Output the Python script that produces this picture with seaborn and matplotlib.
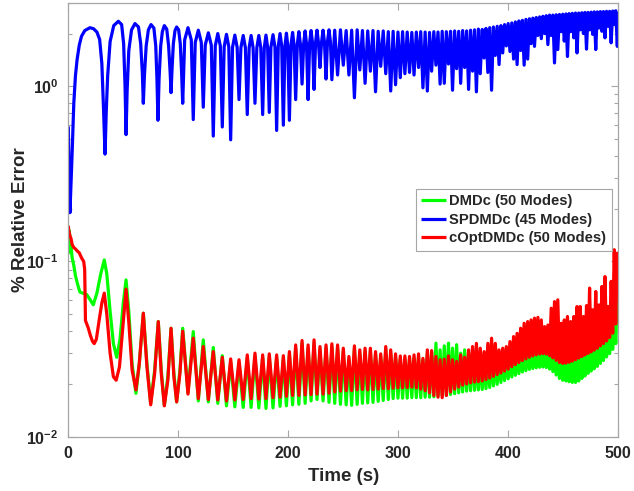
import numpy as np
import pandas as pd
import matplotlib
matplotlib.use("Agg")
import matplotlib.pyplot as plt
import seaborn as sns
from matplotlib.ticker import LogLocator, NullFormatter, FixedLocator

# ---------------- data ----------------
series_names = ["DMDc (50 Modes)", "SPDMDc (45 Modes)", "cOptDMDc (50 Modes)"]
x_ticks = [0, 100, 200, 300, 400, 500]
x_tick_labels = ["0", "100", "200", "300", "400", "500"]
y_ticks = [0.01, 0.1, 1.0]
y_tick_labels = [r"$\mathbf{10^{-2}}$", r"$\mathbf{10^{-1}}$", r"$\mathbf{10^{0}}$"]

# early part (t < 104 s), hand-read points
dmdc_early_t = [0, 0.8, 2, 3.5, 5, 6.5, 8.5, 10.5, 13, 16.5, 19.5, 22.7, 26, 29.5, 32.7,
                35, 38, 41, 44, 47, 50, 52.5, 55, 58, 61.5, 64.5, 68.2, 71.5, 74.9, 78.5,
                81.8, 84.5, 87.3, 90.5, 93.4, 96, 98.5, 101.5]
dmdc_early = [0.11, 0.15, 0.13, 0.105, 0.095, 0.083, 0.074, 0.067, 0.066, 0.065, 0.061, 0.0566,
              0.066, 0.085, 0.102, 0.085, 0.052, 0.034, 0.0284, 0.036, 0.058, 0.0785, 0.052,
              0.026, 0.0177, 0.026, 0.0507, 0.026, 0.0155, 0.024, 0.0454, 0.024, 0.0151,
              0.022, 0.0416, 0.023, 0.0158, 0.024]

spd_early_t = [0, 0.8, 1.5, 2.5, 3.5, 5, 6.5, 8, 10, 12, 15, 19.7, 23, 26, 28.5, 30.5, 32,
               33.4, 34.5, 35.8, 38, 41.3, 45.5, 48.5, 50.3, 51.6, 52.5, 53.5, 55, 57.5, 60.6,
               63.8, 65.8, 67.3, 68.2, 69.2, 70.8, 72.8, 75.2, 77.8, 79.5, 80.6, 81.5, 82.5,
               84, 85.5, 87.3, 89.5, 91.2, 92.6, 93.4, 94.3, 95.5, 97, 98.5, 100.3, 101.8, 103]
spd_early = [0.59, 0.30, 0.19, 0.28, 0.42, 0.80, 1.15, 1.42, 1.72, 1.93, 2.08, 2.16, 2.13,
             2.04, 1.85, 1.35, 0.75, 0.41, 0.72, 1.15, 1.80, 2.22, 2.35, 2.25, 1.75, 1.0,
             0.53, 0.95, 1.6, 2.1, 2.28, 2.18, 1.75, 1.2, 0.80, 1.15, 1.7, 2.1, 2.25, 2.15,
             1.7, 1.1, 0.64, 1.1, 1.7, 2.05, 2.22, 2.12, 1.7, 1.2, 0.92, 1.25, 1.75, 2.08,
             2.18, 2.1, 1.75, 1.2]

copt_early_t = [0, 0.5, 1.5, 2.5, 3.5, 5, 6.5, 8, 10, 12, 14.0, 14.9, 15.6, 18, 20, 22, 23.6,
                25.5, 28, 30.5, 32.7, 35, 38, 41, 43.5, 46.5, 49.5, 52.5, 55, 58, 61.5, 64.5,
                68.2, 71.5, 74.9, 78.5, 81.8, 84.5, 87.3, 90.5, 93.4, 96, 98.5, 101.5]
copt_early = [0.16, 0.15, 0.14, 0.135, 0.125, 0.12, 0.118, 0.115, 0.112, 0.105, 0.10, 0.09,
              0.046, 0.042, 0.038, 0.035, 0.034, 0.036, 0.046, 0.058, 0.066, 0.05, 0.03, 0.022,
              0.021, 0.025, 0.042, 0.0695, 0.045, 0.024, 0.0185, 0.026, 0.0507, 0.025, 0.0152,
              0.023, 0.0454, 0.023, 0.0150, 0.021, 0.0416, 0.022, 0.0158, 0.023]

# oscillating part: times of the red/green maxima (= blue minima) and of the minima between
peak_t = [104.0, 113.6, 122.7, 131.8, 140.0, 147.6, 155.2, 162.7, 169.7, 176.7,
          182.7, 189.4, 195.5, 201.0, 206.7, 212.5, 218.0, 223.4, 228.8, 234.3,
          239.6, 244.8, 250.0, 255.1, 260.1, 265.0, 269.8, 274.6, 279.3, 284.0,
          288.6, 293.1, 297.5, 301.8, 306.0, 310.2, 314.3, 318.4, 322.4, 326.4,
          330.3, 334.2, 338.0, 341.8, 345.6, 349.3, 353.0, 356.7, 360.3, 363.9,
          367.5, 371.0, 374.5, 378.0, 381.4, 384.8, 388.2, 391.6, 394.9, 398.2,
          401.5, 404.8, 408.0, 411.2, 414.4, 417.6, 420.7, 423.8, 426.9, 430.0,
          433.0, 436.0, 439.0, 442.0, 445.0, 448.0, 450.9, 453.8, 456.7, 459.6,
          462.5, 465.4, 468.3, 471.1, 473.9, 476.7, 479.5, 482.3, 485.1, 487.9,
          490.7, 493.5, 496.3, 499.1]
trough_t = [108.8, 118.2, 127.3, 135.9, 143.8, 151.4, 159.0, 166.2, 173.2, 179.7,
            186.1, 192.5, 198.3, 203.9, 209.6, 215.3, 220.7, 226.1, 231.6, 237.0,
            242.2, 247.4, 252.6, 257.6, 262.6, 267.4, 272.2, 277.0, 281.7, 286.3,
            290.9, 295.3, 299.7, 303.9, 308.1, 312.3, 316.4, 320.4, 324.4, 328.4,
            332.3, 336.1, 339.9, 343.7, 347.5, 351.2, 354.9, 358.5, 362.1, 365.7,
            369.3, 372.8, 376.3, 379.7, 383.1, 386.5, 389.9, 393.3, 396.6, 399.9,
            403.2, 406.4, 409.6, 412.8, 416.0, 419.2, 422.3, 425.4, 428.5, 431.5,
            434.5, 437.5, 440.5, 443.5, 446.5, 449.5, 452.4, 455.3, 458.2, 461.1,
            464.0, 466.9, 469.7, 472.5, 475.3, 478.1, 480.9, 483.7, 486.5, 489.3,
            492.1, 494.9, 497.7, 500.0]

copt_at_peak = [0.0400, 0.0365, 0.0327, 0.0306, 0.0284, 0.0278, 0.0275, 0.0293, 0.0300, 0.0293,
                0.0297, 0.0293, 0.0290, 0.0306, 0.0334, 0.0354, 0.0334, 0.0357, 0.0327, 0.0334,
                0.0339, 0.0334, 0.0320, 0.0287, 0.0330, 0.0313, 0.0320, 0.0320, 0.0306, 0.0297,
                0.0327, 0.0313, 0.0297, 0.0289, 0.0289, 0.0287, 0.0293, 0.0297, 0.0280, 0.0313,
                0.0310, 0.0287, 0.0275, 0.0277, 0.0289, 0.0275, 0.0269, 0.0293, 0.0284, 0.0313,
                0.0327, 0.0341, 0.0320, 0.0306, 0.0341, 0.0365, 0.0341, 0.0313, 0.0320, 0.0327,
                0.0349, 0.0373, 0.0389, 0.0416, 0.0444, 0.0454, 0.0464, 0.0475, 0.0480, 0.0464,
                0.0425, 0.0434, 0.0541, 0.0590, 0.0604, 0.0444, 0.0464, 0.0485, 0.0454, 0.0485,
                0.0553, 0.0553, 0.0485, 0.0560, 0.0705, 0.0530, 0.0674, 0.0565, 0.0720, 0.0820,
                0.0553, 0.0770, 0.1167, 0.1117]
copt_at_trough = [0.0175, 0.0165, 0.0163, 0.0162, 0.0160, 0.0162, 0.0163, 0.0165, 0.0164, 0.0165,
                  0.0167, 0.0168, 0.0170, 0.0172, 0.0172, 0.0173, 0.0174, 0.0175, 0.0175, 0.0177,
                  0.0180, 0.0182, 0.0183, 0.0183, 0.0185, 0.0186, 0.0185, 0.0186, 0.0187, 0.0188,
                  0.0188, 0.0189, 0.0190, 0.0190, 0.0191, 0.0192, 0.0190, 0.0187, 0.0183, 0.0178,
                  0.0172, 0.0168, 0.0167, 0.0172, 0.0180, 0.0187, 0.0192, 0.0197, 0.0200, 0.0203,
                  0.0205, 0.0206, 0.0208, 0.0212, 0.0216, 0.0221, 0.0226, 0.0231, 0.0237, 0.0243,
                  0.0251, 0.0258, 0.0265, 0.0272, 0.0278, 0.0284, 0.0289, 0.0293, 0.0296, 0.0298,
                  0.0296, 0.0290, 0.0282, 0.0273, 0.0265, 0.0262, 0.0263, 0.0266, 0.0270, 0.0275,
                  0.0281, 0.0287, 0.0293, 0.0299, 0.0305, 0.0312, 0.0320, 0.0330, 0.0340, 0.0352,
                  0.0368, 0.0390, 0.0440, 0.0950]

dmdc_at_peak = [0.0416, 0.0398, 0.0357, 0.0323, 0.0290, 0.0267, 0.0264, 0.0281, 0.0288, 0.0281,
                0.0285, 0.0281, 0.0278, 0.0294, 0.0320, 0.0340, 0.0320, 0.0343, 0.0314, 0.0320,
                0.0325, 0.0320, 0.0307, 0.0276, 0.0317, 0.0300, 0.0307, 0.0307, 0.0294, 0.0285,
                0.0314, 0.0300, 0.0285, 0.0277, 0.0277, 0.0276, 0.0281, 0.0285, 0.0275, 0.0300,
                0.0305, 0.0342, 0.0313, 0.0330, 0.0342, 0.0320, 0.0335, 0.0300, 0.0313, 0.0300,
                0.0300, 0.0290, 0.0285, 0.0280, 0.0290, 0.0300, 0.0295, 0.0285, 0.0290, 0.0295,
                0.0305, 0.0315, 0.0325, 0.0335, 0.0345, 0.0350, 0.0355, 0.0360, 0.0360, 0.0355,
                0.0345, 0.0345, 0.0370, 0.0380, 0.0375, 0.0330, 0.0335, 0.0340, 0.0335, 0.0345,
                0.0370, 0.0370, 0.0355, 0.0380, 0.0420, 0.0380, 0.0420, 0.0400, 0.0440, 0.0470,
                0.0420, 0.0480, 0.0560, 0.0630]
dmdc_at_trough = [0.0178, 0.0160, 0.0158, 0.0155, 0.0150, 0.0148, 0.0147, 0.0147, 0.0146, 0.0145,
                  0.0146, 0.0149, 0.0150, 0.0152, 0.0153, 0.0155, 0.0160, 0.0163, 0.0160, 0.0157,
                  0.0155, 0.0153, 0.0152, 0.0151, 0.0153, 0.0155, 0.0156, 0.0157, 0.0159, 0.0161,
                  0.0163, 0.0165, 0.0166, 0.0166, 0.0166, 0.0167, 0.0167, 0.0167, 0.0168, 0.0168,
                  0.0169, 0.0170, 0.0171, 0.0172, 0.0174, 0.0176, 0.0178, 0.0180, 0.0182, 0.0183,
                  0.0184, 0.0185, 0.0186, 0.0188, 0.0191, 0.0195, 0.0199, 0.0204, 0.0209, 0.0214,
                  0.0219, 0.0224, 0.0229, 0.0234, 0.0238, 0.0242, 0.0245, 0.0247, 0.0249, 0.0250,
                  0.0248, 0.0243, 0.0235, 0.0225, 0.0215, 0.0210, 0.0208, 0.0206, 0.0204, 0.0204,
                  0.0208, 0.0215, 0.0222, 0.0230, 0.0237, 0.0244, 0.0252, 0.0262, 0.0272, 0.0285,
                  0.0298, 0.0315, 0.0340, 0.0620]

spd_at_peak = [0.80, 0.646, 0.76, 0.52, 0.586, 0.495, 0.84, 0.69, 0.80, 0.69,
               0.71, 0.56, 0.60, 0.64, 0.84, 1.03, 0.84, 0.96, 1.28, 1.10,
               1.09, 1.16, 1.32, 1.16, 0.86, 1.24, 1.04, 1.22, 0.93, 1.30,
               1.18, 0.94, 1.02, 1.12, 1.18, 1.20, 1.16, 1.28, 0.98, 0.94,
               1.22, 1.32, 1.03, 1.04, 1.34, 0.95, 1.26, 1.04, 1.28, 0.96,
               1.22, 0.93, 1.18, 1.45, 1.20, 0.95, 1.50, 1.33, 1.55, 1.70,
               1.58, 1.43, 1.33, 1.60, 1.32, 1.43, 1.75, 1.69, 1.95, 1.87,
               2.00, 1.73, 1.95, 1.36, 1.62, 2.05, 1.81, 1.48, 2.05, 1.89,
               1.55, 2.10, 2.00, 1.63, 2.10, 1.98, 1.62, 2.15, 2.06, 1.89,
               2.20, 1.77, 2.25, 1.69]
spd_at_trough = [2.16, 2.09, 2.02, 2.00, 1.98, 1.96, 1.95, 1.95, 1.95, 1.96,
                 1.97, 2.00, 2.01, 2.03, 2.05, 2.07, 2.08, 2.09, 2.09, 2.10,
                 2.09, 2.10, 2.08, 2.09, 2.10, 2.08, 2.07, 2.08, 2.06, 2.07,
                 2.05, 2.06, 2.04, 2.05, 2.04, 2.03, 2.04, 2.05, 2.04, 2.03,
                 2.05, 2.04, 2.06, 2.05, 2.06, 2.07, 2.06, 2.08, 2.07, 2.09,
                 2.10, 2.12, 2.11, 2.14, 2.16, 2.18, 2.20, 2.22, 2.25, 2.28,
                 2.30, 2.33, 2.36, 2.38, 2.41, 2.43, 2.45, 2.47, 2.49, 2.51,
                 2.53, 2.55, 2.55, 2.56, 2.57, 2.58, 2.59, 2.60, 2.61, 2.62,
                 2.62, 2.63, 2.64, 2.64, 2.65, 2.66, 2.66, 2.67, 2.67, 2.68,
                 2.68, 2.69, 2.70, 2.65]

# shoulders of the rounded blue maxima (104-240 s), read where the dips widen out
spd_shoulder_t = [105.8, 111.8, 115.4, 120.9, 124.5, 130.0, 133.6, 138.2, 141.7, 145.9,
                  149.3, 153.5, 156.9, 161.0, 164.4, 168.0, 171.4, 175.0, 178.2, 181.2,
                  184.2, 187.9, 190.9, 194.0, 197.0, 199.5, 202.5, 205.2, 208.2, 211.0,
                  214.0, 216.5, 219.4, 222.0, 224.8, 227.4, 230.2, 232.9, 235.6, 238.3]
spd_shoulder = [1.84, 1.84, 1.78, 1.78, 1.72, 1.72, 1.70, 1.70, 1.68, 1.68,
                1.67, 1.67, 1.66, 1.66, 1.66, 1.66, 1.66, 1.66, 1.67, 1.67,
                1.67, 1.67, 1.70, 1.70, 1.71, 1.71, 1.73, 1.73, 1.74, 1.74,
                1.76, 1.76, 1.77, 1.77, 1.78, 1.78, 1.78, 1.78, 1.79, 1.79]


def build(early_t, early_v, at_peak, at_trough, name, extra_t=(), extra_v=()):
    t_osc = np.column_stack([peak_t, trough_t]).ravel()
    v_osc = np.column_stack([at_peak, at_trough]).ravel()
    t = np.concatenate([early_t, t_osc, extra_t])
    v = np.concatenate([early_v, v_osc, extra_v])
    df = pd.DataFrame({"Time (s)": t, "err": v, "method": name})
    return df.sort_values("Time (s)", kind="stable").reset_index(drop=True)


df_dmdc = build(dmdc_early_t, dmdc_early, dmdc_at_peak, dmdc_at_trough, series_names[0])
df_spd = build(spd_early_t, spd_early, spd_at_peak, spd_at_trough, series_names[1],
               spd_shoulder_t, spd_shoulder)
df_copt = build(copt_early_t, copt_early, copt_at_peak, copt_at_trough, series_names[2])

# ---------------- style ----------------
sns.set_style("ticks")
plt.rcParams["font.family"] = ["Liberation Sans", "DejaVu Sans"]
plt.rcParams["mathtext.fontset"] = "custom"
plt.rcParams["mathtext.rm"] = "Liberation Sans:bold"
plt.rcParams["mathtext.bf"] = "Liberation Sans:bold"
plt.rcParams["mathtext.it"] = "Liberation Sans:bold"

axis_gray = "#a6a6a6"
text_col = "#262626"

fig = plt.figure(figsize=(6.34, 4.91), dpi=100)
ax = fig.add_axes([68.3 / 634, 1 - 436.7 / 491, 550 / 634, 434 / 491])

line_kw = dict(estimator=None, sort=False, lw=2.3, solid_joinstyle="round",
               solid_capstyle="butt")
sns.lineplot(data=df_dmdc, x="Time (s)", y="err", ax=ax, color="#00ff00",
             label=series_names[0], **line_kw)
sns.lineplot(data=df_spd, x="Time (s)", y="err", ax=ax, color="#0000ff",
             label=series_names[1], **line_kw)
sns.lineplot(data=df_copt, x="Time (s)", y="err", ax=ax, color="#ff0000",
             label=series_names[2], **line_kw)

ax.set_yscale("log")
ax.set_xlim(0, 500)
ax.set_ylim(0.01, 3.0)

ax.set_xticks(x_ticks)
ax.set_xticklabels(x_tick_labels, fontweight="bold", fontsize=11.5)
ax.yaxis.set_major_locator(FixedLocator(y_ticks))
ax.set_yticklabels(y_tick_labels, fontsize=11.5)
ax.yaxis.set_minor_locator(LogLocator(base=10, subs=np.arange(2, 10)))
ax.yaxis.set_minor_formatter(NullFormatter())

ax.tick_params(which="both", direction="in", top=True, right=True,
               color=axis_gray, labelcolor=text_col, width=0.8)
ax.tick_params(which="major", length=5, pad=7)
ax.tick_params(which="minor", length=2.8)
for s in ax.spines.values():
    s.set_color(axis_gray)
    s.set_linewidth(0.9)

ax.set_xlabel("Time (s)", fontsize=13.5, fontweight="bold", color=text_col)
ax.set_ylabel("% Relative Error", fontsize=13.5, fontweight="bold", color=text_col)
ax.xaxis.set_label_coords(0.5, -0.072)
ax.yaxis.set_label_coords(-0.072, 0.5)

leg = ax.legend(loc="upper right", bbox_to_anchor=(0.9885, 0.571), frameon=True,
                fancybox=False, edgecolor=axis_gray, framealpha=1, borderpad=0.38,
                handlelength=1.7, handletextpad=0.2, labelspacing=0.3,
                borderaxespad=0.0, prop={"weight": "bold", "size": 10.6})
leg.get_frame().set_linewidth(0.8)
for txt in leg.get_texts():
    txt.set_color(text_col)

fig.savefig("out.png", dpi=100)
